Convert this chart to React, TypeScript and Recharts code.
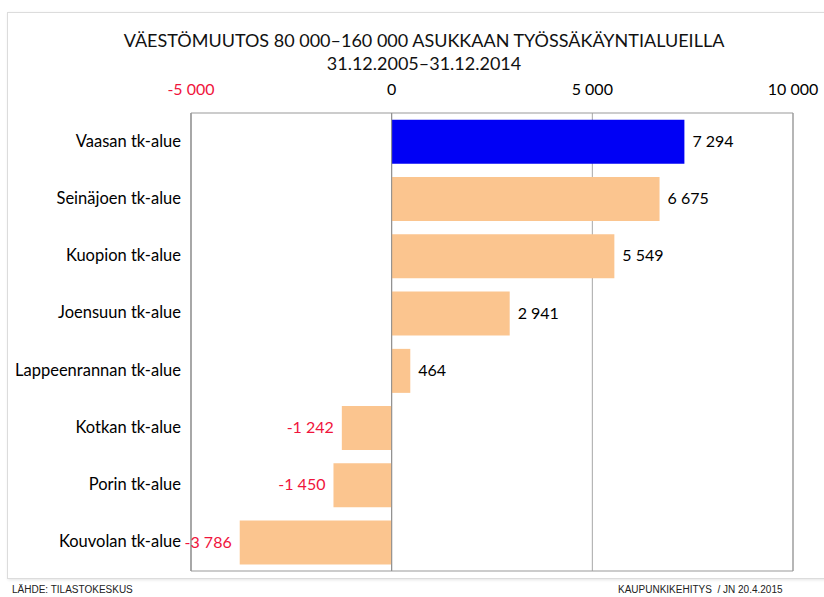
import React from "react";
import {
  BarChart,
  Bar,
  XAxis,
  YAxis,
  CartesianGrid,
  Cell,
  LabelList,
  ReferenceLine,
  ReferenceArea,
} from "recharts";

const regions = [
  "Vaasan tk-alue",
  "Seinäjoen tk-alue",
  "Kuopion tk-alue",
  "Joensuun tk-alue",
  "Lappeenrannan tk-alue",
  "Kotkan tk-alue",
  "Porin tk-alue",
  "Kouvolan tk-alue",
];
const change = [7294, 6675, 5549, 2941, 464, -1242, -1450, -3786];
const highlighted = "Vaasan tk-alue";
const xTicks = [-5000, 0, 5000, 10000];

const data = regions.map((region, i) => ({ region, change: change[i] }));

const FONT = "Lato, 'Open Sans', sans-serif";
const RED = "#f0143c";

// 7294 -> "7 294"
const fmt = (v: number) => {
  const s = Math.abs(v).toString().replace(/\B(?=(\d{3})+(?!\d))/g, " ");
  return v < 0 ? "-" + s : s;
};

const XTick = (props: any) => {
  const { x, y, payload } = props;
  return (
    <text
      x={x}
      y={y}
      dy={-10}
      textAnchor="middle"
      fontSize={16}
      fontFamily={FONT}
      fill={payload.value < 0 ? RED : "#000"}
    >
      {fmt(payload.value)}
    </text>
  );
};

const YTick = (props: any) => {
  const { x, y, payload } = props;
  return (
    <text
      x={x}
      y={y}
      dx={-2}
      dy={5}
      textAnchor="end"
      fontSize={16.5}
      fontFamily={FONT}
      fill="#000"
    >
      {payload.value}
    </text>
  );
};

const ValueLabel = (props: any) => {
  const { x, y, width, height, value } = props;
  const neg = value < 0;
  return (
    <text
      x={neg ? Math.min(x, x + width) - 8 : x + width + 8}
      y={y + height / 2}
      dy={5}
      textAnchor={neg ? "end" : "start"}
      fontSize={16}
      fontFamily={FONT}
      fill={neg ? RED : "#000"}
    >
      {fmt(value)}
    </text>
  );
};

export default function App() {
  return (
    <div
      style={{
        position: "fixed",
        left: 0,
        top: 0,
        width: 824,
        height: 597,
        background: "#fff",
        fontFamily: FONT,
      }}
    >
      <div
        style={{
          position: "absolute",
          left: 7,
          top: 12,
          width: 830,
          height: 565,
          border: "1px solid #dcdcdc",
          boxShadow: "1px 1px 3px #e4e4e4",
        }}
      />
      <div
        style={{
          position: "absolute",
          left: 0,
          top: 29,
          width: 848,
          textAlign: "center",
          fontSize: 18,
          lineHeight: "23px",
          color: "#111",
        }}
      >
        VÄESTÖMUUTOS 80 000–160 000 ASUKKAAN TYÖSSÄKÄYNTIALUEILLA
        <br />
        31.12.2005–31.12.2014
      </div>
      <BarChart
        width={824}
        height={597}
        data={data}
        layout="vertical"
        margin={{ top: 83, right: 31, bottom: 26, left: 6 }}
        barCategoryGap="12%"
        style={{ position: "absolute", left: 0, top: 0 }}
      >
        <CartesianGrid horizontal={false} stroke="#a8a8a8" />
        <XAxis
          type="number"
          orientation="top"
          domain={[-5000, 10000]}
          ticks={xTicks}
          height={30}
          axisLine={false}
          tickLine={false}
          tick={<XTick />}
          interval={0}
        />
        <YAxis
          type="category"
          dataKey="region"
          width={185}
          axisLine={{ stroke: "#999" }}
          tickLine={false}
          tick={<YTick />}
          interval={0}
        />
        <ReferenceArea
          x1={-5000}
          x2={10000}
          fill="none"
          stroke="#999"
          strokeWidth={1}
        />
        <Bar dataKey="change" isAnimationActive={false}>
          {data.map((d) => (
            <Cell
              key={d.region}
              fill={d.region === highlighted ? "#0000f5" : "#fbc58f"}
            />
          ))}
          <LabelList dataKey="change" content={<ValueLabel />} />
        </Bar>
        <ReferenceLine x={0} stroke="#8c8c8c" />
      </BarChart>
      <div
        style={{
          position: "absolute",
          left: 12,
          top: 584,
          fontSize: 10,
          fontFamily: "'Liberation Sans', Arial, sans-serif",
          color: "#222",
        }}
      >
        LÄHDE: TILASTOKESKUS
      </div>
      <div
        style={{
          position: "absolute",
          left: 618,
          top: 584,
          fontSize: 10,
          fontFamily: "'Liberation Sans', Arial, sans-serif",
          color: "#222",
        }}
      >
        KAUPUNKIKEHITYS &nbsp;/ JN 20.4.2015
      </div>
    </div>
  );
}
